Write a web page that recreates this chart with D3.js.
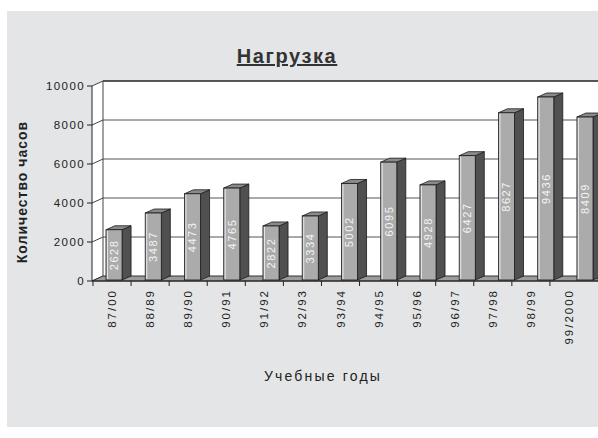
<!DOCTYPE html>
<html><head><meta charset="utf-8">
<script src="https://cdn.jsdelivr.net/npm/d3@7/dist/d3.min.js"></script>
<style>body{margin:0;background:#fff}svg{display:block}</style>
</head><body><svg id="c" width="598" height="438"></svg>
<script>
const categories = ["87/00","88/89","89/90","90/91","91/92","92/93","93/94","94/95","95/96","96/97","97/98","98/99","99/2000"];
const hours = [2628,3487,4473,4765,2822,3334,5002,6095,4928,6427,8627,9436,8409];
const labels = ["2628","3487","4473","4765","2822","3334","5002","6095","4928","6427","8627","9436","8409"];
const yTicks = [0,2000,4000,6000,8000,10000];
const yTickLabels = ["0","2000","4000","6000","8000","10000"];
const title = "Нагрузка", xTitle = "Учебные годы", yTitle = "Количество часов";

const svg = d3.select("#c");
const font = "'Liberation Sans',Arial,sans-serif";
svg.append("rect").attr("x",7).attr("y",11).attr("width",591).attr("height",416).attr("fill","#e4e5e6");

const depthX = 11, depthY = -5;
const axisX = 92;
const yF = d3.scaleLinear().domain([0,10000]).range([281,86]);
const yB = v => yF(v) + depthY;
// bars (set back in depth) and axis categories
const xBar = d3.scaleBand().domain(categories).range([94.4,604.6]).paddingInner(0.59).paddingOuter(0.295);
const xAx = d3.scaleBand().domain(categories).range([93,588]);

// back wall and side wall
svg.append("rect").attr("x",axisX+depthX).attr("y",yB(10000)).attr("width",598-axisX-depthX).attr("height",yB(0)-yB(10000)).attr("fill","#fff");
svg.append("path").attr("d",`M${axisX},${yF(10000)}L${axisX+depthX},${yB(10000)}L${axisX+depthX},${yB(0)}L${axisX},${yF(0)}Z`).attr("fill","#fff");
svg.append("g").selectAll("line").data(yTicks.filter(d=>d>0)).join("line")
  .attr("x1",axisX+depthX).attr("x2",598).attr("y1",d=>yB(d)).attr("y2",d=>yB(d))
  .attr("stroke",d=>d===10000?"#222":"#555").attr("stroke-width",d=>d===10000?1.5:1);
svg.append("g").selectAll("line").data(yTicks).join("line")
  .attr("x1",axisX).attr("y1",d=>yF(d)).attr("x2",axisX+depthX).attr("y2",d=>yB(d))
  .attr("stroke","#444").attr("stroke-width",1);
svg.append("line").attr("x1",axisX+depthX).attr("x2",axisX+depthX).attr("y1",yB(10000)).attr("y2",yB(0)).attr("stroke","#444");
// floor
svg.append("path").attr("d",`M${axisX},${yF(0)}L${axisX+depthX},${yB(0)}L598,${yB(0)}L598,${yF(0)}Z`)
  .attr("fill","#9c9c9c").attr("stroke","#333").attr("stroke-width",1);

// bars
const bdx = 9, bdy = -4;
const bw = xBar.bandwidth();
svg.append("g").selectAll("g").data(hours).join("g").each(function(v,i){
  const g = d3.select(this);
  const x0 = xBar(categories[i]), x1 = x0 + bw;
  const yb = yF(0) - 1, yt = yF(v);
  g.append("path").attr("d",`M${x1},${yt}L${x1+bdx},${yt+bdy}L${x1+bdx},${yb+bdy}L${x1},${yb}Z`)
    .attr("fill","#505050").attr("stroke","#1a1a1a").attr("stroke-width",0.8);
  g.append("path").attr("d",`M${x0},${yt}L${x0+bdx},${yt+bdy}L${x1+bdx},${yt+bdy}L${x1},${yt}Z`)
    .attr("fill","#8a8a8a").attr("stroke","#1a1a1a").attr("stroke-width",0.8);
  g.append("rect").attr("x",x0).attr("y",yt).attr("width",bw).attr("height",yb-yt)
    .attr("fill","#ababab").attr("stroke","#1a1a1a").attr("stroke-width",0.8);
  g.append("line").attr("x1",x0+1.5).attr("x2",x0+1.5).attr("y1",yt+1).attr("y2",yb-1).attr("stroke","#e8e8e8").attr("stroke-width",1);
  const cy = (yt+yb)/2, cx = x0 + bw/2;
  g.append("text").attr("transform",`translate(${cx},${cy}) rotate(-90)`)
    .attr("text-anchor","middle").attr("dy","0.35em").attr("fill","#f4f4f4")
    .attr("font-family",font).attr("font-size",11).attr("letter-spacing",1.6).text(labels[i]);
});

// y axis
svg.append("line").attr("x1",axisX).attr("x2",axisX).attr("y1",yF(10000)).attr("y2",yF(0)).attr("stroke","#222");
svg.append("g").selectAll("line").data(yTicks).join("line")
  .attr("x1",axisX-5).attr("x2",axisX).attr("y1",d=>yF(d)).attr("y2",d=>yF(d)).attr("stroke","#222");
svg.append("g").selectAll("text").data(yTicks).join("text")
  .attr("x",axisX-7).attr("y",d=>yF(d)).attr("dy","0.35em").attr("text-anchor","end")
  .attr("font-family",font).attr("font-size",11.5).attr("letter-spacing",1.4).attr("fill","#222").text((d,i)=>yTickLabels[i]);

// x axis
svg.append("line").attr("x1",axisX).attr("x2",598).attr("y1",yF(0)).attr("y2",yF(0)).attr("stroke","#222");
svg.append("g").selectAll("line").data(categories).join("line")
  .attr("x1",d=>xAx(d)).attr("x2",d=>xAx(d))
  .attr("y1",yF(0)).attr("y2",yF(0)+5).attr("stroke","#222");
svg.append("g").selectAll("text").data(categories).join("text")
  .attr("transform",d=>`translate(${xAx(d)+xAx.bandwidth()/2},${yF(0)+8}) rotate(-90)`)
  .attr("text-anchor","end").attr("dy","0.35em")
  .attr("font-family",font).attr("font-size",11.5).attr("letter-spacing",2).attr("fill","#222").text(d=>d);

// titles
svg.append("text").attr("x",287).attr("y",63).attr("text-anchor","middle")
  .attr("font-family",font).attr("font-weight","bold").attr("font-size",20).attr("letter-spacing",1.6)
  .attr("text-decoration","underline").attr("fill","#333").text(title);
svg.append("text").attr("x",323).attr("y",381).attr("text-anchor","middle")
  .attr("font-family",font).attr("font-size",14).attr("letter-spacing",2.2).attr("fill","#222").text(xTitle);
svg.append("text").attr("transform","translate(27,192) rotate(-90)").attr("text-anchor","middle")
  .attr("font-family",font).attr("font-weight","bold").attr("font-size",14).attr("letter-spacing",1).attr("fill","#222").text(yTitle);
</script></body></html>
